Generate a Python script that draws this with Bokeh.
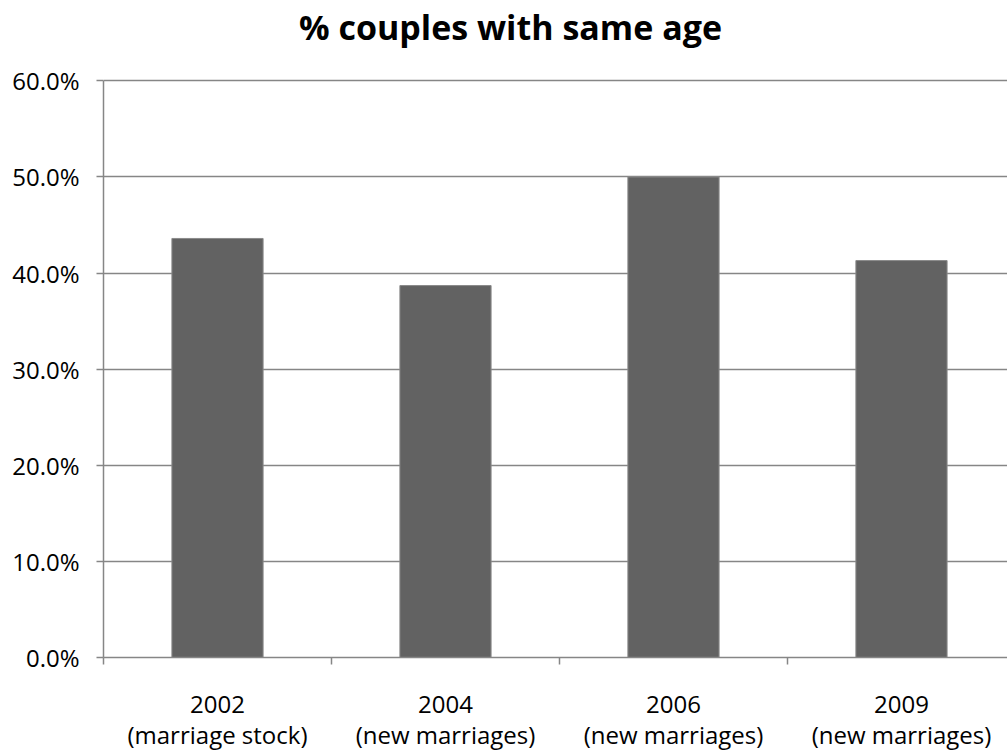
from bokeh.plotting import figure
from bokeh.models import Range1d, FixedTicker, NumeralTickFormatter, ColumnDataSource, Label
from bokeh.embed import file_html
from bokeh.resources import INLINE

# Survey years and the population each share refers to
years = ["2002", "2004", "2006", "2009"]
groups = ["(marriage stock)", "(new marriages)", "(new marriages)", "(new marriages)"]
# Share of couples in which both partners have the same age
share_same_age = [0.436, 0.387, 0.500, 0.413]
y_ticks = [0.0, 0.1, 0.2, 0.3, 0.4, 0.5, 0.6]
chart_title = "% couples with same age"

centers = [i + 0.5 for i in range(len(years))]
bounds = [float(i) for i in range(len(years))]

src = ColumnDataSource(dict(x=centers, top=share_same_age))

FONT = "Open Sans"
GREY = "#868686"

# The frame reaches the top of the canvas; the space above 60% holds the heading.
Y_TOP = 0.6836
p = figure(width=1007, height=753, output_backend="svg", toolbar_location=None,
           x_range=Range1d(0, 3.965), y_range=Range1d(0, Y_TOP),
           min_border_left=103, min_border_right=0,
           min_border_top=0, min_border_bottom=95)
p.outline_line_color = None
p.background_fill_color = "white"
p.border_fill_color = "white"

p.vbar(x="x", top="top", width=0.4, bottom=0, source=src,
       fill_color="#626262", line_color="#8a8a8a", line_width=1)

# value axis
ya = p.yaxis[0]
ya.bounds = (y_ticks[0], y_ticks[-1])
ya.ticker = FixedTicker(ticks=y_ticks, minor_ticks=[])
ya.formatter = NumeralTickFormatter(format="0.0%")
ya.axis_line_color = GREY
ya.axis_line_width = 1.5
ya.major_tick_line_color = GREY
ya.major_tick_line_width = 1.5
ya.major_tick_out = 7
ya.major_tick_in = 0
ya.minor_tick_line_color = None
ya.major_label_text_font = FONT
ya.major_label_text_font_size = "24px"
ya.major_label_text_color = "#000000"
ya.major_label_standoff = 17

# category axis: labels at the centres, tick marks at the boundaries
xa = p.xaxis[0]
xa.ticker = FixedTicker(ticks=centers, minor_ticks=bounds)
xa.major_label_overrides = {c: f"{y}\n{g}" for c, y, g in zip(centers, years, groups)}
xa.axis_line_color = GREY
xa.axis_line_width = 1.5
xa.major_tick_line_color = None
xa.major_tick_out = 0
xa.major_tick_in = 0
xa.minor_tick_line_color = GREY
xa.minor_tick_line_width = 1.5
xa.minor_tick_out = 7
xa.minor_tick_in = 0
xa.major_label_text_font = FONT
xa.major_label_text_font_size = "24px"
xa.major_label_text_color = "#000000"
xa.major_label_text_line_height = 0.95
xa.major_label_standoff = 22

p.xgrid.grid_line_color = None
p.ygrid.grid_line_color = GREY
p.ygrid.grid_line_width = 1.5
p.ygrid.ticker = FixedTicker(ticks=y_ticks)

# chart heading
p.add_layout(Label(x=1.785, y=0.656, text=chart_title, text_font=FONT,
                   text_font_style="bold", text_font_size="34px",
                   text_color="#000000", text_align="center",
                   text_baseline="middle"))

open("out.html", "w").write(file_html(p, INLINE))
